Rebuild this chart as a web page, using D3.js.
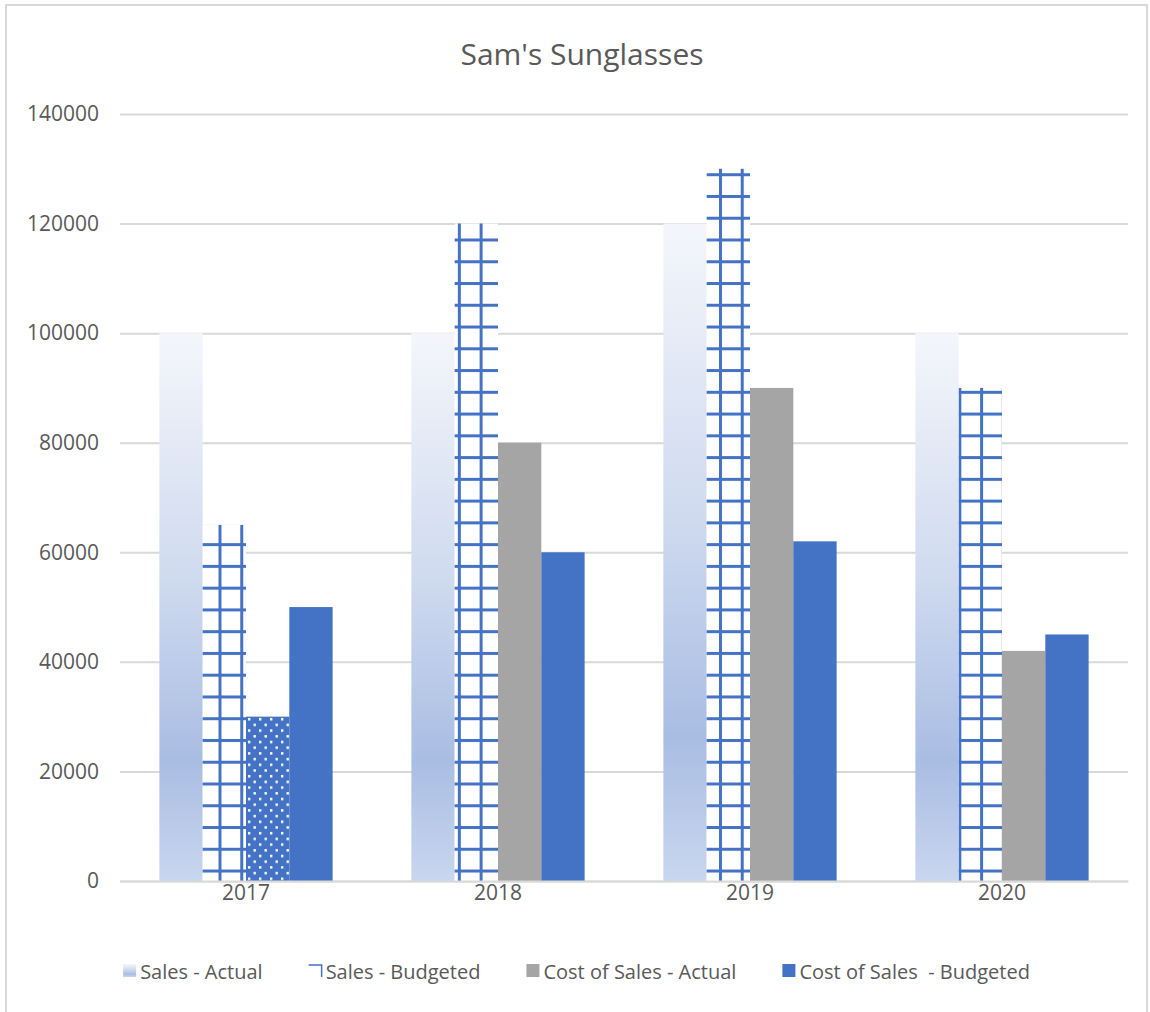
<!DOCTYPE html>
<html>
<head>
<meta charset="utf-8">
<script src="https://cdn.jsdelivr.net/npm/d3@7"></script>
<style>
  html, body { margin: 0; padding: 0; background: #fff; }
  svg { display: block; }
  text { font-family: "Open Sans", "Noto Sans", sans-serif; fill: #595959; white-space: pre; }
</style>
</head>
<body>
<svg id="chart" width="1150" height="1012"></svg>
<script>
const title = "Sam's Sunglasses";
const categories = ["2017", "2018", "2019", "2020"];
const seriesNames = ["Sales - Actual", "Sales - Budgeted", "Cost of Sales - Actual", "Cost of Sales  - Budgeted"];
const salesActual = [100000, 100000, 120000, 100000];
const salesBudgeted = [65000, 120000, 130000, 90000];
const costActual = [30000, 80000, 90000, 42000];
const costBudgeted = [50000, 60000, 62000, 45000];
const yTicks = [0, 20000, 40000, 60000, 80000, 100000, 120000, 140000];
const dottedPoint = { series: "Cost of Sales - Actual", category: "2017" };

const seriesValues = [salesActual, salesBudgeted, costActual, costBudgeted];
const seriesFills = ["url(#gradActual)", "url(#gridPat)", "#A5A5A5", "#4472C4"];

const svg = d3.select("#chart");
const W = 1150, H = 1012;
const plot = { left: 120, right: 1128, top: 114, bottom: 881 };
const blue = "#4472C4";

// border
svg.append("path")
  .attr("d", `M6,${H} V5 H1147 V${H}`)
  .attr("fill", "none").attr("stroke", "#d9d9d9").attr("stroke-width", 2);

const defs = svg.append("defs");
const grad = defs.append("linearGradient").attr("id", "gradActual")
  .attr("x1", 0).attr("y1", 0).attr("x2", 0).attr("y2", 1);
[[0, "#f4f6fb"], [0.45, "#cfdaef"], [0.78, "#a9bde3"], [1, "#c9d6ee"]].forEach(([o, c]) =>
  grad.append("stop").attr("offset", o).attr("stop-color", c));

const P = 21.76;
const gp = defs.append("pattern").attr("id", "gridPat").attr("patternUnits", "userSpaceOnUse")
  .attr("x", 218.5).attr("y", 238.5).attr("width", P).attr("height", P);
gp.append("rect").attr("width", P).attr("height", P).attr("fill", "#fff");
gp.append("rect").attr("x", 0).attr("y", 0).attr("width", 3).attr("height", P).attr("fill", blue);
gp.append("rect").attr("x", 0).attr("y", 0).attr("width", P).attr("height", 3).attr("fill", blue);

const dp = defs.append("pattern").attr("id", "dotPat").attr("patternUnits", "userSpaceOnUse")
  .attr("x", 246).attr("y", 716).attr("width", 11).attr("height", 11.4);
dp.append("rect").attr("width", 11).attr("height", 11.4).attr("fill", blue);
dp.append("rect").attr("x", 2).attr("y", 2).attr("width", 2.4).attr("height", 2.4).attr("fill", "#fff");
dp.append("rect").attr("x", 7.5).attr("y", 7.7).attr("width", 2.4).attr("height", 2.4).attr("fill", "#fff");

// scales
const y = d3.scaleLinear().domain([0, 140000]).range([plot.bottom, plot.top]);
const x0 = d3.scaleBand().domain(categories).range([plot.left, plot.right])
  .paddingInner(0.3125).paddingOuter(0.15625);
const x1 = d3.scaleBand().domain(seriesNames).range([0, x0.bandwidth()]);

// y axis with gridlines
const yAxis = svg.append("g").attr("transform", `translate(${plot.left},0)`)
  .call(d3.axisLeft(y).tickValues(yTicks).tickFormat(d3.format("d"))
    .tickSize(-(plot.right - plot.left)).tickPadding(21));
yAxis.select(".domain").remove();
yAxis.selectAll(".tick line").attr("stroke", "#d9d9d9").attr("stroke-width", 2);
yAxis.selectAll(".tick text").style("font-size", "21px").attr("fill", "#595959")
  .style("font-family", "'Open Sans', sans-serif");

// bars
const data = [];
categories.forEach((c, ci) => seriesNames.forEach((s, si) =>
  data.push({ category: c, series: s, value: seriesValues[si][ci], si })));

svg.append("g").selectAll("rect").data(data).join("rect")
  .attr("x", d => x0(d.category) + x1(d.series))
  .attr("y", d => y(d.value))
  .attr("width", x1.bandwidth())
  .attr("height", d => y(0) - y(d.value))
  .attr("fill", d => (d.series === dottedPoint.series && d.category === dottedPoint.category)
    ? "url(#dotPat)" : seriesFills[d.si]);

// x axis
const xAxis = svg.append("g").attr("transform", `translate(0,${plot.bottom})`)
  .call(d3.axisBottom(x0).tickSize(0).tickPadding(4));
xAxis.select(".domain").attr("stroke", "#d9d9d9").attr("stroke-width", 2);
xAxis.selectAll(".tick text").style("font-size", "21px").attr("fill", "#595959")
  .style("font-family", "'Open Sans', sans-serif");

// title
svg.append("text").attr("x", 582).attr("y", 65).attr("text-anchor", "middle")
  .style("font-size", "30px").text(title);

// legend
const lg = svg.append("g");
const items = lg.selectAll("g").data(seriesNames).join("g");
items.append("text").attr("x", 17).attr("y", 979).style("font-size", "20px").text(d => d);
const widths = [];
items.each(function () { widths.push(this.querySelector("text").getComputedTextLength()); });
const gap = 46;
const total = widths.reduce((a, w) => a + 17 + w, 0) + gap * (widths.length - 1);
let cx = 576.5 - total / 2;
items.each(function (d, i) {
  d3.select(this).attr("transform", `translate(${cx},0)`);
  const g = d3.select(this);
  if (i === 1) {
    g.append("path").attr("d", "M0,965 H13 V977").attr("fill", "none").attr("stroke", blue).attr("stroke-width", 1.5);
  } else {
    g.append("rect").attr("x", 0).attr("y", 964).attr("width", 13).attr("height", 13)
      .attr("fill", i === 0 ? "url(#gradActual)" : seriesFills[i]);
  }
  cx += 17 + widths[i] + gap;
});
</script>
</body>
</html>
